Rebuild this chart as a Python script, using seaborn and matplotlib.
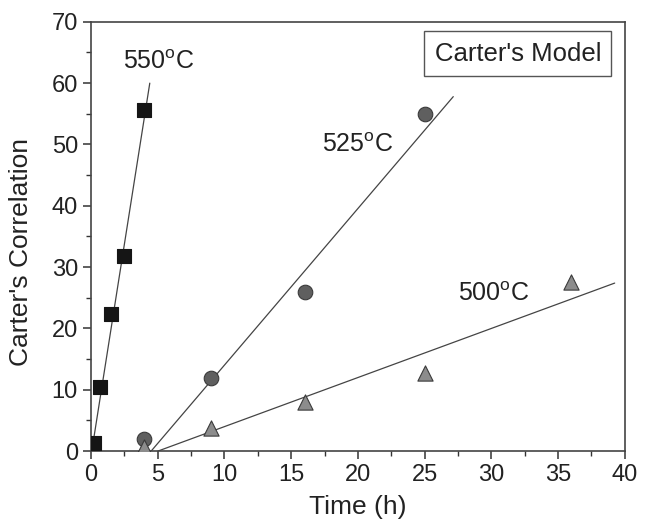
import numpy as np
import pandas as pd
import matplotlib
matplotlib.use("Agg")
import matplotlib.pyplot as plt
import seaborn as sns
from matplotlib.ticker import MultipleLocator

# dane
t_550 = [0.25, 0.7, 1.5, 2.5, 4.0]
c_550 = [1.3, 10.4, 22.3, 31.8, 55.6]
t_525 = [4, 9, 16, 25]
c_525 = [1.9, 12.0, 25.9, 55.0]
t_500 = [4, 9, 16, 25, 36]
c_500 = [0.6, 3.8, 8.0, 12.8, 27.6]

# linie dopasowania (punkty końcowe)
fit_550_t = [0.05, 4.4]
fit_550_c = [0.0, 60.0]
fit_525_t = [4.5, 27.15]
fit_525_c = [0.0, 57.8]
fit_500_t = [5.0, 39.25]
fit_500_c = [0.0, 27.4]

labels = ["550$^{\\rm o}$C", "525$^{\\rm o}$C", "500$^{\\rm o}$C"]
label_pos = [(2.4, 63.5), (17.3, 49.9), (27.5, 25.6)]

sns.set_style("ticks")
plt.rcParams["font.family"] = ["Liberation Sans", "DejaVu Sans"]
plt.rcParams["mathtext.fontset"] = "custom"
plt.rcParams["mathtext.rm"] = "Liberation Sans"

fig, ax = plt.subplots(figsize=(6.46, 5.32), dpi=100)
fig.subplots_adjust(left=0.141, right=0.967, top=0.959, bottom=0.152)

line_kw = dict(color="#444444", linewidth=0.9, ax=ax)
sns.lineplot(x=fit_550_t, y=fit_550_c, **line_kw)
sns.lineplot(x=fit_525_t, y=fit_525_c, **line_kw)
sns.lineplot(x=fit_500_t, y=fit_500_c, **line_kw)

sns.scatterplot(x=t_550, y=c_550, marker="s", s=90, color="#151515",
                edgecolor="#151515", linewidth=0.8, ax=ax, zorder=3)
sns.scatterplot(x=t_525, y=c_525, marker="o", s=110, color="#5f5f5f",
                edgecolor="#3a3a3a", linewidth=0.8, ax=ax, zorder=3)
sns.scatterplot(x=t_500, y=c_500, marker="^", s=120, color="#8c8c8c",
                edgecolor="#3a3a3a", linewidth=0.8, ax=ax, zorder=3)

for lab, (x, y) in zip(labels, label_pos):
    ax.text(x, y, lab, fontsize=18, color="#222222", va="center", ha="left")

ax.text(0.8, 0.926, "Carter's Model", transform=ax.transAxes, fontsize=18.5,
        ha="center", va="center", color="#222222",
        bbox=dict(boxstyle="square,pad=0.4", facecolor="white",
                  edgecolor="#555555", linewidth=1.0))

ax.set_xlim(0, 40)
ax.set_ylim(0, 70)
ax.xaxis.set_major_locator(MultipleLocator(5))
ax.xaxis.set_minor_locator(MultipleLocator(2.5))
ax.yaxis.set_major_locator(MultipleLocator(10))
ax.yaxis.set_minor_locator(MultipleLocator(5))
ax.tick_params(which="major", direction="out", length=6, width=1.1,
               labelsize=17, colors="#333333", labelcolor="#222222")
ax.tick_params(which="minor", direction="out", length=3.5, width=1.0,
               colors="#333333")
for sp in ax.spines.values():
    sp.set_linewidth(1.2)
    sp.set_color("#444444")

ax.set_xlabel("Time (h)", fontsize=19, color="#222222")
ax.set_ylabel("Carter's Correlation", fontsize=19, color="#222222")
ax.xaxis.set_label_coords(0.5, -0.103)
ax.yaxis.set_label_coords(-0.108, 0.464)

plt.savefig("out.png", dpi=100)
plt.close()
